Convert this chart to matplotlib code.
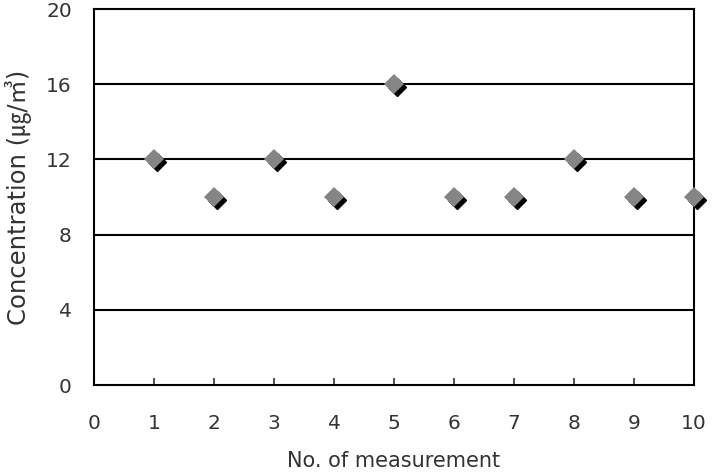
import matplotlib.pyplot as plt
from matplotlib.transforms import offset_copy

# data
measurement = [1, 2, 3, 4, 5, 6, 7, 8, 9, 10]
concentration = [12, 10, 12, 10, 16, 10, 10, 12, 10, 10]
x_ticks = list(range(0, 11))
y_ticks = [0, 4, 8, 12, 16, 20]

plt.rcParams['font.family'] = ['DejaVu Sans', 'Noto Sans CJK KR']

fig = plt.figure(figsize=(7.13, 4.72), dpi=100)
ax = fig.add_axes([0.1318, 0.1843, 0.8416, 0.7966])

for y in y_ticks[1:-1]:
    ax.axhline(y, color="black", lw=1.5, zorder=1)

# shadow then marker
shadow = offset_copy(ax.transData, fig=fig, x=2.2, y=-2.2, units="points")
ax.plot(measurement, concentration, ls="none", marker="D", ms=9.5,
        color="black", transform=shadow, clip_on=False, zorder=3)
ax.plot(measurement, concentration, ls="none", marker="D", ms=10,
        color="#858585", markeredgewidth=0, clip_on=False, zorder=4)

ax.set_xlim(0, 10)
ax.set_ylim(0, 20)
ax.set_xticks(x_ticks)
ax.set_yticks(y_ticks)
ax.tick_params(axis="x", direction="in", length=5, width=1.2, pad=21,
               labelsize=14.5, color="#333333")
ax.tick_params(axis="y", length=0, pad=16, labelsize=14.5)
for lbl in ax.get_xticklabels() + ax.get_yticklabels():
    lbl.set_color("#333333")

for s in ax.spines.values():
    s.set_linewidth(1.5)

ax.set_xlabel("No. of measurement", fontsize=15, color="#333333", labelpad=13)
ax.set_ylabel("Concentration (㎍/㎥)", fontsize=17.5, color="#333333", labelpad=10)

fig.savefig("out.png", dpi=100)
